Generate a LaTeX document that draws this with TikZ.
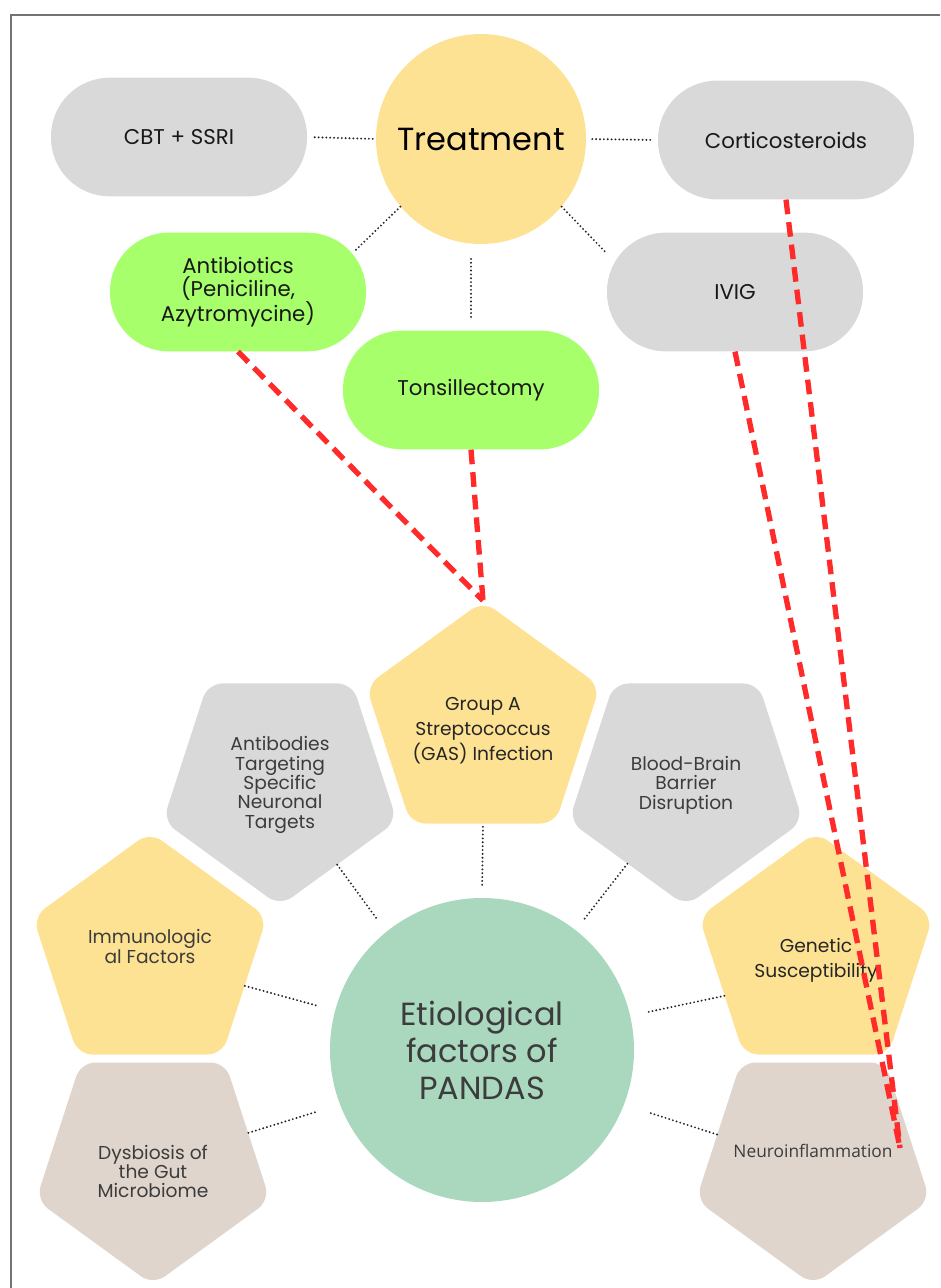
\documentclass[tikz,border=0pt]{standalone}
\usepackage{fontspec}
\setmainfont{Poppins}
\newfontfamily\neurofont{Open Sans}
\usetikzlibrary{shapes.geometric}

\definecolor{jaune}{HTML}{FEE293}
\definecolor{gris}{HTML}{D9D9D9}
\definecolor{vert}{HTML}{A6FF6B}
\definecolor{taupe}{HTML}{E0D5CD}
\definecolor{menthe}{HTML}{A9D8BF}
\definecolor{rouge}{HTML}{FF2A2A}
\definecolor{texte}{HTML}{3C3C3C}

\begin{document}
\begin{tikzpicture}[
    x=0.75pt, y=-0.75pt,
    capsule/.style={rectangle, rounded corners=44pt, minimum width=192pt, minimum height=89pt,
        align=center, text=black!90, font=\fontsize{16}{17}\selectfont},
    penta/.style={regular polygon, regular polygon sides=5, minimum size=184.5pt,
        inner sep=0pt, rounded corners=11pt},
    pbas/.style={penta, shape border rotate=180},
    ptexte/.style={align=center, text=texte, font=\fontsize{14}{14.5}\selectfont},
    lien/.style={black!85, line width=1.6pt, line cap=round, dash pattern=on 0pt off 2.9pt},
    rougetiret/.style={rouge, line width=4pt, dash pattern=on 11pt off 6pt}
]

% Cadre de la page
\useasboundingbox (0,0) rectangle (940,1288);
\draw[black!55, line width=1pt] (11,1288) -- (11,15) -- (940,15);

% Traitements
\node[circle, fill=jaune, minimum size=157.5pt, font=\fontsize{24}{24}\selectfont] (treat) at (481,139) {Treatment};
\node[capsule, fill=gris] (cbt) at (179,137) {CBT + SSRI};
\node[capsule, fill=gris] (cort) at (786,140) {Corticosteroids};
\node[capsule, fill=vert, font=\fontsize{16}{17.5}\selectfont] (antib) at (238,292) {Antibiotics\\(Peniciline,\\Azytromycine)};
\node[capsule, fill=gris] (ivig) at (735,292) {IVIG};
\node[capsule, fill=vert] (tons) at (471,390) {Tonsillectomy};

% Facteurs (pentagones)
\node[penta, fill=jaune] (gas) at (483,724) {};
\node[pbas, fill=gris] (abody) at (280,783) {};
\node[pbas, fill=gris] (bbb) at (686,783) {};
\node[penta, fill=jaune] (immuno) at (150,955) {};
\node[penta, fill=jaune] (gen) at (816,955) {};
\node[pbas, fill=taupe] (dysb) at (153,1162) {};
\node[pbas, fill=taupe] (neuro) at (813,1162) {};

% Textes des pentagones
\node[ptexte, text=black!85, font=\fontsize{14}{18.75}\selectfont] (gas-t) at ([yshift=-5pt]gas.center) {Group A\\Streptococcus\\(GAS) Infection};
\node[ptexte] (abody-t) at ([yshift=-1.5pt]abody.center) {Antibodies\\Targeting\\Specific\\Neuronal\\Targets};
\node[ptexte] (bbb-t) at ([yshift=-1.5pt]bbb.center) {Blood-Brain\\Barrier\\Disruption};
\node[ptexte] (immuno-t) at ([yshift=6.4pt]immuno.center) {Immunologic\\al Factors};
\node[ptexte, text=black!85, font=\fontsize{14}{19.3}\selectfont] (gen-t) at ([yshift=-4pt]gen.center) {Genetic\\Susceptibility};
\node[ptexte] (dysb-t) at ([yshift=-7pt]dysb.center) {Dysbiosis of\\the Gut\\Microbiome};
\node[ptexte, font=\neurofont\fontsize{13}{14}\selectfont] (neuro-t) at ([yshift=8pt]neuro.center) {Neuroinflammation};

% Centre
\node[circle, fill=menthe, minimum size=228pt, align=center, text=texte,
    font=\fontsize{24}{27.75}\selectfont] (etio) at (482,1050) {Etiological\\factors of\\PANDAS};

% Liens pointillés
\draw[lien, shorten <=2.25pt, shorten >=3.75pt] (treat.west) -- (cbt.east);
\draw[lien, shorten <=4.5pt, shorten >=3.75pt] (treat.east) -- (cort.west);
\draw[lien, shorten <=11pt, shorten >=7.5pt] (tons.north |- treat.south) -- (tons.north);
\draw[lien] (treat.220) -- ([shift={(-13,20)}]antib.north east);
\draw[lien] (treat.320) -- ([shift={(-1,20)}]ivig.north west);

\draw[lien, shorten <=2.25pt, shorten >=9pt] (gas.270) -- (etio.north);
\draw[lien, shorten >=10.5pt] (abody.305) -- (etio.129);
\draw[lien, shorten >=10.5pt] (bbb.234) -- (etio.52);
\draw[lien, shorten >=14pt] (immuno.342) -- (etio.165);
\draw[lien, shorten >=13.5pt] (gen.204) -- (etio.13);
\draw[lien, shorten >=19pt] (dysb.17) -- (etio.201);
\draw[lien, shorten >=19pt] (neuro.164) -- (etio.339);

% Tirets rouges
\coordinate (impact) at ([shift={(87,-14)}]neuro.center);
\draw[rougetiret] (antib.south) -- (gas.north);
\draw[rougetiret] (tons.south) -- (gas.north);
\draw[rougetiret] (ivig.south) -- (impact);
\draw[rougetiret] (cort.south) -- (impact);

\end{tikzpicture}
\end{document}
